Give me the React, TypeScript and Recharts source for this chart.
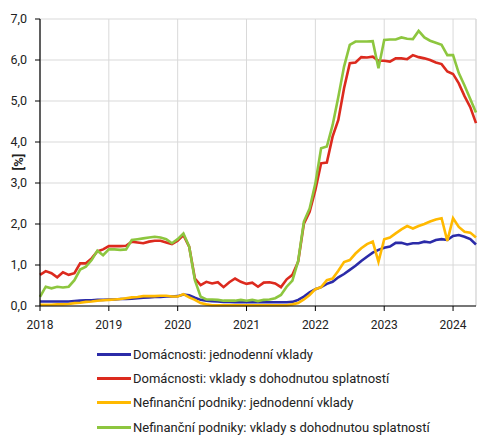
import React from "react";
import { LineChart, Line, XAxis, YAxis, CartesianGrid, ReferenceLine } from "recharts";

// Monthly data, Jan 2018 – May 2024 (index 0..76)
const years = ["2018", "2019", "2020", "2021", "2022", "2023", "2024"];
const yTicks = [0, 1, 2, 3, 4, 5, 6, 7];

const seriesNames = [
  "Domácnosti: jednodenní vklady",
  "Domácnosti: vklady s dohodnutou splatností",
  "Nefinanční podniky: jednodenní vklady",
  "Nefinanční podniky: vklady s dohodnutou splatností",
];
const seriesColors = ["#2b2ba8", "#dc2a1e", "#ffb900", "#8dc63f"];

const hhOvernight = [
  0.11, 0.11, 0.11, 0.11, 0.11, 0.11, 0.12, 0.13, 0.14, 0.14, 0.15, 0.15,
  0.16, 0.16, 0.17, 0.17, 0.18, 0.19, 0.2, 0.21, 0.22, 0.22, 0.23, 0.23,
  0.24, 0.28, 0.26, 0.2, 0.15, 0.13, 0.12, 0.11, 0.1, 0.1, 0.09, 0.09,
  0.09, 0.09, 0.09, 0.09, 0.09, 0.09, 0.09, 0.09, 0.1, 0.15, 0.23, 0.33,
  0.41, 0.46, 0.54, 0.59, 0.7, 0.78, 0.88, 0.98, 1.1, 1.2, 1.3, 1.37,
  1.42, 1.45, 1.54, 1.54, 1.5, 1.53, 1.53, 1.57, 1.55, 1.61, 1.63, 1.61,
  1.71, 1.73, 1.69, 1.63, 1.5,
];
const hhAgreed = [
  0.76, 0.85, 0.8, 0.7, 0.82, 0.76, 0.8, 1.04, 1.04, 1.16, 1.33, 1.38,
  1.46, 1.46, 1.46, 1.47, 1.57, 1.55, 1.53, 1.57, 1.59, 1.59, 1.55, 1.51,
  1.59, 1.73, 1.45, 0.67, 0.51, 0.59, 0.55, 0.58, 0.46, 0.58, 0.67, 0.59,
  0.54, 0.57, 0.47, 0.57, 0.58, 0.55, 0.46, 0.65, 0.76, 1.08, 2.01, 2.3,
  2.83, 3.48, 3.5, 4.13, 4.54, 5.31, 5.92, 5.94, 6.07, 6.06, 6.08, 5.98,
  5.98, 5.96, 6.04, 6.04, 6.02, 6.12, 6.07, 6.04, 6.0, 5.94, 5.9, 5.72,
  5.66, 5.43, 5.12, 4.85, 4.46,
];
const nfcOvernight = [
  0.03, 0.03, 0.03, 0.04, 0.04, 0.05, 0.07, 0.08, 0.1, 0.11, 0.13, 0.14,
  0.15, 0.16, 0.17, 0.19, 0.21, 0.22, 0.24, 0.24, 0.24, 0.25, 0.25, 0.23,
  0.23, 0.29, 0.21, 0.15, 0.07, 0.04, 0.02, 0.02, 0.02, 0.02, 0.02, 0.02,
  0.02, 0.02, 0.02, 0.02, 0.02, 0.02, 0.02, 0.02, 0.04, 0.07, 0.16, 0.27,
  0.41, 0.46, 0.63, 0.67, 0.86, 1.07, 1.12, 1.28, 1.41, 1.51, 1.57, 1.08,
  1.63, 1.67, 1.77, 1.87, 1.95, 1.89, 1.95, 2.0, 2.06, 2.11, 2.14, 1.59,
  2.14, 1.93, 1.81, 1.79, 1.67,
];
const nfcAgreed = [
  0.22, 0.47, 0.43, 0.47, 0.45, 0.47, 0.63, 0.89, 0.96, 1.12, 1.35, 1.24,
  1.38, 1.38, 1.37, 1.38, 1.61, 1.63, 1.65, 1.67, 1.69, 1.67, 1.63, 1.53,
  1.63, 1.77, 1.45, 0.63, 0.23, 0.16, 0.16, 0.15, 0.13, 0.13, 0.13, 0.15,
  0.13, 0.15, 0.12, 0.15, 0.16, 0.19, 0.27, 0.47, 0.62, 1.1, 2.06, 2.38,
  2.99, 3.85, 3.89, 4.41, 5.1, 5.84, 6.37, 6.45, 6.45, 6.45, 6.46, 5.8,
  6.49, 6.5, 6.5, 6.55, 6.52, 6.51, 6.71, 6.55, 6.47, 6.42, 6.37, 6.12,
  6.12, 5.68, 5.38, 5.05, 4.72,
];

const seriesKeys = ["s0", "s1", "s2", "s3"];
const seriesValues = [hhOvernight, hhAgreed, nfcOvernight, nfcAgreed];

const data = hhOvernight.map((_, i) => ({
  i,
  s0: seriesValues[0][i],
  s1: seriesValues[1][i],
  s2: seriesValues[2][i],
  s3: seriesValues[3][i],
}));
const lastIndex = data.length - 1;
const xTicks = years.map((_, k) => k * 12);

const FONT = "Roboto, 'DejaVu Sans', sans-serif";

const YLabel = () => (
  <text
    x={18}
    y={162}
    transform="rotate(-90 18 162)"
    textAnchor="middle"
    dominantBaseline="central"
    fontFamily={FONT}
    fontSize={13}
    fontWeight={700}
    fill="#222"
  >
    [%]
  </text>
);

export default function App() {
  return (
    <div style={{ position: "relative", width: 488, height: 438, fontFamily: FONT }}>
      <style>{"body{margin:0;background:#fff}"}</style>
      <LineChart
        width={488}
        height={438}
        data={data}
        margin={{ top: 19, right: 12, left: 0, bottom: 102 }}
      >
        <CartesianGrid stroke="#d9d9d9" strokeWidth={1} />
        <ReferenceLine x={lastIndex} stroke="#d9d9d9" strokeWidth={1} />
        <XAxis
          type="number"
          dataKey="i"
          domain={[0, lastIndex]}
          ticks={xTicks}
          tickFormatter={(v: number) => years[Math.round(v / 12)]}
          axisLine={{ stroke: "#000", strokeWidth: 1.2 }}
          tickLine={{ stroke: "#000" }}
          tickSize={5}
          tickMargin={9}
          height={30}
          tick={{ fontFamily: FONT, fontSize: 12, fill: "#222" }}
          interval={0}
        />
        <YAxis
          domain={[0, 7]}
          ticks={yTicks}
          tickFormatter={(v: number) => v.toFixed(1).replace(".", ",")}
          axisLine={{ stroke: "#000", strokeWidth: 1.2 }}
          tickLine={{ stroke: "#000" }}
          tickSize={5}
          tickMargin={8}
          width={40}
          tick={{ fontFamily: FONT, fontSize: 12.5, fill: "#222" }}
          interval={0}
          label={<YLabel />}
        />
        {seriesKeys.map((k, idx) => (
          <Line
            key={k}
            type="linear"
            dataKey={k}
            stroke={seriesColors[idx]}
            strokeWidth={2.6}
            dot={false}
            activeDot={false}
            isAnimationActive={false}
          />
        ))}
      </LineChart>
      <div style={{ position: "absolute", left: 97, top: 342 }}>
        {seriesNames.map((name, idx) => (
          <div
            key={name}
            style={{ display: "flex", alignItems: "center", height: 24.3, whiteSpace: "nowrap" }}
          >
            <div style={{ width: 34, height: 3, background: seriesColors[idx] }} />
            <span style={{ marginLeft: 2, fontSize: 13, color: "#222", fontFamily: FONT }}>{name}</span>
          </div>
        ))}
      </div>
    </div>
  );
}
